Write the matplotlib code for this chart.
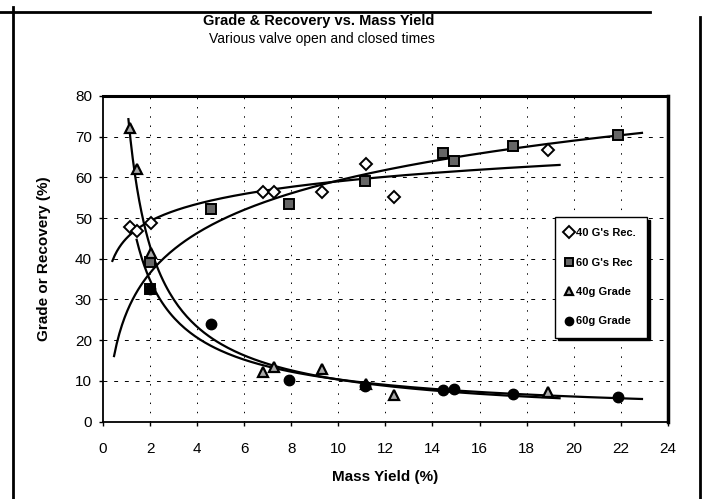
import matplotlib.pyplot as plt
import numpy as np
from matplotlib.lines import Line2D

plt.rcParams['font.family'] = ['Liberation Sans', 'DejaVu Sans']

# dados
x40 = np.array([1.15, 1.43, 2.04, 6.8, 7.28, 9.31, 11.19, 12.35, 18.92])
rec40 = np.array([47.9, 46.7, 48.7, 56.3, 56.3, 56.5, 63.3, 55.1, 66.8])
grade40 = np.array([72.1, 62.0, 41.3, 12.3, 13.4, 12.9, 9.3, 6.6, 7.4])

x60rec = np.array([2.0, 2.0, 4.6, 7.89, 11.15, 14.45, 14.9, 17.43, 21.89])
rec60 = np.array([32.5, 39.3, 52.2, 53.5, 59.0, 66.0, 63.9, 67.7, 70.4])
x60 = np.array([2.0, 4.6, 7.89, 11.15, 14.45, 14.9, 17.43, 21.89])
grade60 = np.array([32.5, 24.0, 10.2, 8.8, 7.8, 8.0, 6.8, 6.1])

labels = ["40 G's Rec.", "60 G's Rec", "40g Grade", "60g Grade"]
xticks = np.arange(0, 25, 2)
yticks = np.arange(0, 81, 10)

fig = plt.figure(figsize=(7.03, 4.99), dpi=100)
ax = fig.add_axes([0.1465, 0.155, 0.8035, 0.653])

# grade tracejada
for yv in yticks[1:-1]:
    ax.axhline(yv, color='black', lw=0.7, ls=(0, (4, 7)), zorder=0)
for xv in xticks[1:-1]:
    ax.axvline(xv, color='black', lw=0.7, ls=(0, (1.5, 8)), zorder=0)

# linhas de tendência (log para recuperação, potência para teor)
def log_fit(x, y, x0, x1):
    a, b = np.polyfit(np.log(x), y, 1)
    xx = np.linspace(x0, x1, 200)
    return xx, a * np.log(xx) + b

def pow_fit(x, y, x0, x1):
    p, c = np.polyfit(np.log(x), np.log(y), 1)
    xx = np.linspace(x0, x1, 200)
    return xx, np.exp(c) * xx ** p

for xx, yy in [log_fit(x40, rec40, 0.4, 19.4),
               log_fit(x60rec, rec60, 0.47, 22.9),
               pow_fit(x40, grade40, 1.08, 19.4),
               pow_fit(x60, grade60, 1.43, 22.9)]:
    ax.plot(xx, yy, color='black', lw=1.6, zorder=2)

ax.plot(x40, rec40, 'D', ms=6.5, mfc='white', mec='black', mew=1.4, ls='none', label=labels[0], zorder=3)
ax.plot(x60rec, rec60, 's', ms=7.5, mfc='#666666', mec='black', mew=1.4, ls='none', label=labels[1], zorder=3)
ax.plot(x40, grade40, '^', ms=7.5, mfc='#aaaaaa', mec='black', mew=1.6, ls='none', label=labels[2], zorder=3)
ax.plot(x60, grade60, 'o', ms=7.5, mfc='black', mec='black', ls='none', label=labels[3], zorder=3)

ax.set_xlim(0, 24)
ax.set_ylim(0, 80)
ax.set_xticks(xticks)
ax.set_yticks(yticks)
ax.tick_params(labelsize=11, length=3, width=1, direction='out')
ax.tick_params(axis='x', pad=12)
ax.tick_params(axis='y', pad=5)
ax.spines['top'].set_linewidth(2.2)
ax.spines['right'].set_linewidth(2.5)
ax.spines['left'].set_linewidth(1.3)
ax.spines['bottom'].set_linewidth(1.3)

ax.set_xlabel('Mass Yield (%)', fontsize=11, fontweight='bold', labelpad=10)
ax.set_ylabel('Grade or Recovery (%)', fontsize=11, fontweight='bold', labelpad=17)

fig.text(0.453, 0.958, 'Grade & Recovery vs. Mass Yield', ha='center', va='center',
         fontsize=10.5, fontweight='bold')
fig.text(0.458, 0.922, 'Various valve open and closed times', ha='center', va='center',
         fontsize=10)

leg = ax.legend(loc='upper left', bbox_to_anchor=(0.79, 0.645),
                prop={'weight': 'bold', 'size': 8}, labelspacing=1.75,
                handlelength=0.6, handletextpad=0.3, borderpad=1.0,
                fancybox=False, framealpha=1, edgecolor='black',
                shadow={'color': 'black', 'alpha': 1})
leg.get_frame().set_linewidth(1.0)
for h in leg.legend_handles:
    h.set_markersize(6)

# moldura externa da página digitalizada
fig.add_artist(Line2D([0.018, 0.018], [0, 0.985], color='black', lw=2))
fig.add_artist(Line2D([0, 0.925], [0.975, 0.975], color='black', lw=2))
fig.add_artist(Line2D([0.996, 0.996], [0, 0.965], color='black', lw=2))

fig.savefig('out.png', dpi=100)
